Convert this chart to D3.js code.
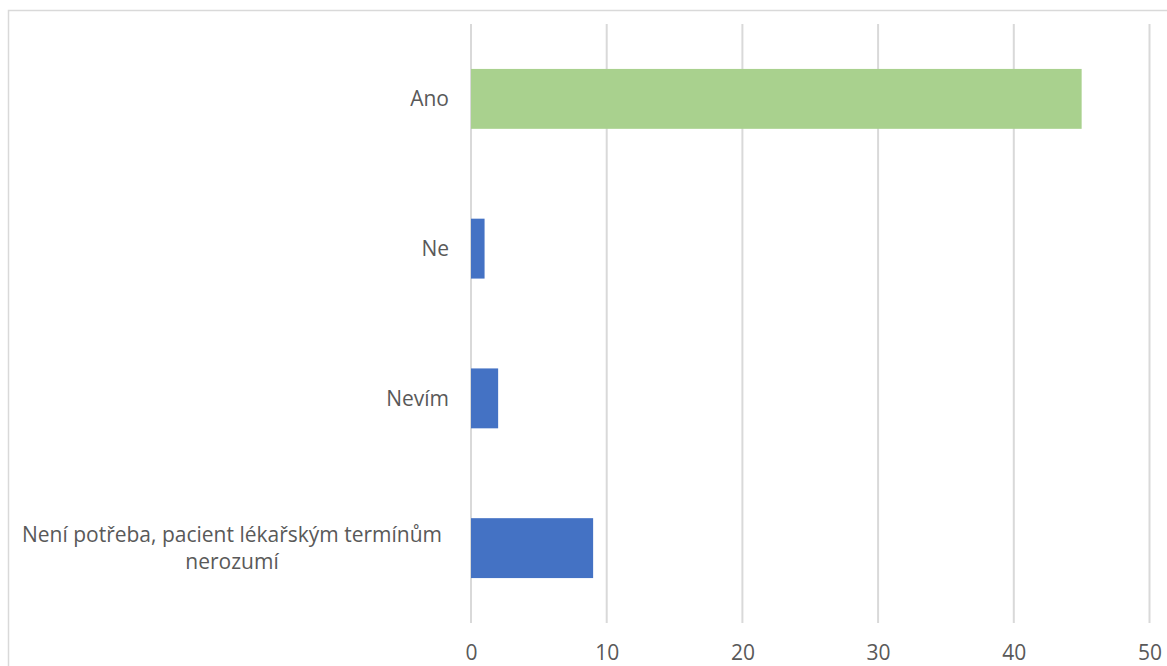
<!DOCTYPE html>
<html><head><meta charset="utf-8">
<script src="https://cdn.jsdelivr.net/npm/d3@7"></script>
<style>body{margin:0;background:#fff}text{font-family:"Open Sans",sans-serif}</style>
</head><body><svg id="c" width="1167" height="666"></svg>
<script>
const categories = ["Ano", "Ne", "Nevím", "Není potřeba, pacient lékařským termínům nerozumí"];
const labelLines = [["Ano"], ["Ne"], ["Nevím"], ["Není potřeba, pacient lékařským termínům", "nerozumí"]];
const values = [45, 1, 2, 9];
const colors = ["#a9d18e", "#4472c4", "#4472c4", "#4472c4"];
const xTicks = [0, 10, 20, 30, 40, 50];

const svg = d3.select("#c");
svg.append("rect").attr("x", 8.5).attr("y", 10.5).attr("width", 1200).attr("height", 700)
  .attr("fill", "#fff").attr("stroke", "#d9d9d9").attr("stroke-width", 1.5);

const m = {left: 471, right: 1149.5, top: 24, bottom: 623};
const x = d3.scaleLinear().domain([0, 50]).range([m.left, m.right]);
const y = d3.scaleBand().domain(categories).range([m.top, m.bottom]).paddingInner(0.6).paddingOuter(0.3);

const grid = svg.append("g");
grid.selectAll("line").data(xTicks).join("line")
  .attr("x1", d => x(d)).attr("x2", d => x(d)).attr("y1", m.top).attr("y2", m.bottom)
  .attr("stroke", "#d9d9d9").attr("stroke-width", 2);

svg.append("g").selectAll("rect").data(categories).join("rect")
  .attr("x", x(0)).attr("y", d => y(d))
  .attr("width", (d, i) => x(values[i]) - x(0)).attr("height", y.bandwidth())
  .attr("fill", (d, i) => colors[i]);

const xAxis = d3.axisBottom(x).tickValues(xTicks).tickSize(0).tickPadding(0);
const gx = svg.append("g").attr("transform", `translate(0,${m.bottom})`).call(xAxis);
gx.select(".domain").remove();
gx.selectAll("text").attr("y", 37).attr("dy", 0).attr("font-size", 21).attr("fill", "#595959")
  .style("font-family", "'Open Sans',sans-serif");

const yAxis = d3.axisLeft(y).tickSize(0).tickPadding(0).tickFormat("");
const gy = svg.append("g").attr("transform", `translate(${m.left},0)`).call(yAxis);
gy.select(".domain").remove();
gy.selectAll(".tick").each(function(d, i) {
  const lines = labelLines[i];
  const t = d3.select(this).append("text").attr("fill", "#595959").attr("font-size", 21)
    .style("font-family", "'Open Sans',sans-serif");
  if (lines.length === 1) {
    t.attr("x", -22).attr("text-anchor", "end").attr("dy", "0.35em").text(lines[0]);
  } else {
    lines.forEach((l, k) => {
      t.append("tspan").attr("x", -239).attr("text-anchor", "middle")
        .attr("y", (k - (lines.length - 1) / 2) * 27).attr("dy", "0.35em").text(l);
    });
  }
});
</script></body></html>
